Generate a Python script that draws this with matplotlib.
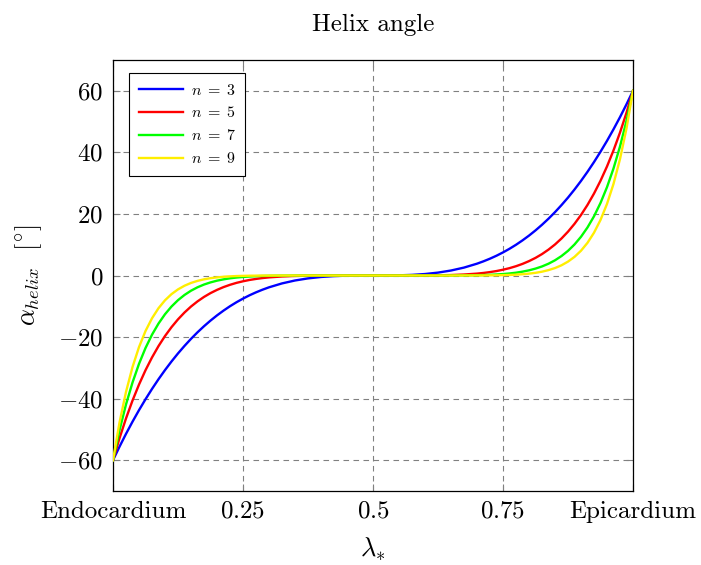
import matplotlib
matplotlib.use("Agg")
import matplotlib.pyplot as plt

plt.rcParams['font.family'] = 'serif'
plt.rcParams['font.serif'] = ['cmr10']
plt.rcParams['mathtext.fontset'] = 'cm'
plt.rcParams['axes.formatter.use_mathtext'] = True

# normalized transmural position (0 = endocardium, 1 = epicardium)
lam = [0, 0.0125, 0.025, 0.0375, 0.05, 0.0625, 0.075, 0.0875, 0.1, 0.1125, 0.125,
       0.1375, 0.15, 0.1625, 0.175, 0.1875, 0.2, 0.2125, 0.225, 0.2375, 0.25,
       0.2625, 0.275, 0.2875, 0.3,
       0.325, 0.35, 0.375, 0.4, 0.425, 0.45, 0.475,
       0.5, 0.525, 0.55, 0.575, 0.6, 0.625, 0.65, 0.675,
       0.7, 0.7125, 0.725, 0.7375, 0.75, 0.7625, 0.775, 0.7875, 0.8, 0.8125,
       0.825, 0.8375, 0.85, 0.8625, 0.875, 0.8875, 0.9, 0.9125, 0.925, 0.9375,
       0.95, 0.9625, 0.975, 0.9875, 1.0]

# helix angle [deg] for each exponent n
n3 = [-60, -55.61, -51.44, -47.49, -43.74, -40.2, -36.85, -33.69, -30.72, -27.93, -25.31,
      -22.87, -20.58, -18.45, -16.48, -14.65, -12.96, -11.41, -9.98, -8.68, -7.5,
      -6.43, -5.47, -4.61, -3.84,
      -2.57, -1.62, -0.94, -0.48, -0.2, -0.06, -0.01,
      0, 0.01, 0.06, 0.2, 0.48, 0.94, 1.62, 2.57,
      3.84, 4.61, 5.47, 6.43, 7.5, 8.68, 9.98, 11.41, 12.96, 14.65,
      16.48, 18.45, 20.58, 22.87, 25.31, 27.93, 30.72, 33.69, 36.85, 40.2,
      43.74, 47.49, 51.44, 55.61, 60]
n5 = [-60, -52.87, -46.43, -40.63, -35.43, -30.77, -26.62, -22.93, -19.66, -16.78, -14.24,
      -12.02, -10.08, -8.41, -6.96, -5.72, -4.67, -3.77, -3.02, -2.39, -1.88,
      -1.45, -1.11, -0.83, -0.61,
      -0.32, -0.15, -0.06, -0.02, 0, 0, 0,
      0, 0, 0, 0, 0.02, 0.06, 0.15, 0.32,
      0.61, 0.83, 1.11, 1.45, 1.88, 2.39, 3.02, 3.77, 4.67, 5.72,
      6.96, 8.41, 10.08, 12.02, 14.24, 16.78, 19.66, 22.93, 26.62, 30.77,
      35.43, 40.63, 46.43, 52.87, 60]
n7 = [-60, -50.26, -41.9, -34.77, -28.7, -23.56, -19.23, -15.61, -12.58, -10.08, -8.01,
      -6.32, -4.94, -3.83, -2.94, -2.24, -1.68, -1.25, -0.91, -0.66, -0.47,
      -0.33, -0.22, -0.15, -0.1,
      -0.04, -0.01, 0, 0, 0, 0, 0,
      0, 0, 0, 0, 0, 0, 0.01, 0.04,
      0.1, 0.15, 0.22, 0.33, 0.47, 0.66, 0.91, 1.25, 1.68, 2.24,
      2.94, 3.83, 4.94, 6.32, 8.01, 10.08, 12.58, 15.61, 19.23, 23.56,
      28.7, 34.77, 41.9, 50.26, 60]
n9 = [-60, -47.77, -37.81, -29.75, -23.25, -18.04, -13.9, -10.62, -8.05, -6.05, -4.51,
      -3.32, -2.42, -1.75, -1.24, -0.87, -0.61, -0.41, -0.28, -0.18, -0.12,
      -0.07, -0.05, -0.03, -0.02,
      -0.01, 0, 0, 0, 0, 0, 0,
      0, 0, 0, 0, 0, 0, 0, 0.01,
      0.02, 0.03, 0.05, 0.07, 0.12, 0.18, 0.28, 0.41, 0.61, 0.87,
      1.24, 1.75, 2.42, 3.32, 4.51, 6.05, 8.05, 10.62, 13.9, 18.04,
      23.25, 29.75, 37.81, 47.77, 60]

series = [(n3, 'blue', r'$n\;=\;3$'), (n5, 'red', r'$n\;=\;5$'),
          (n7, '#00ff00', r'$n\;=\;7$'), (n9, '#ffee00', r'$n\;=\;9$')]

xticks = [0, 0.25, 0.5, 0.75, 1]
xticklabels = ['Endocardium', r'$0.25$', r'$0.5$', r'$0.75$', 'Epicardium']
yticks = [-60, -40, -20, 0, 20, 40, 60]

fig = plt.figure(figsize=(7.01, 5.65), dpi=100)
ax = fig.add_axes([113 / 701, 74 / 565, 520 / 701, 431 / 565])

for y, c, lab in series:
    ax.plot(lam, y, color=c, lw=1.7, label=lab, zorder=3)

ax.set_xlim(0, 1)
ax.set_ylim(-70, 70)
ax.set_xticks(xticks)
ax.set_xticklabels(xticklabels, fontsize=18)
ax.set_yticks(yticks)
ax.set_yticklabels([r'$%d$' % v if v >= 0 else r'$-%d$' % -v for v in yticks], fontsize=18)
ax.tick_params(direction='in', length=5, color='gray', top=True, right=True, pad=7)
ax.grid(True, color='gray', linestyle=(0, (5, 4)), linewidth=0.8)
for s in ax.spines.values():
    s.set_linewidth(0.9)

ax.set_title('Helix angle', fontsize=18, pad=21)
ax.set_xlabel(r'$\lambda_{*}$', fontsize=19, labelpad=9)
ax.set_ylabel(r'$\alpha_{helix}\ \ [^{\circ}]$', fontsize=19, labelpad=10)

leg = ax.legend(loc='upper left', bbox_to_anchor=(0.031, 0.97), fontsize=11.5,
                fancybox=False, framealpha=1, edgecolor='black', borderaxespad=0,
                handlelength=2.8, handletextpad=0.45, borderpad=0.6, labelspacing=0.5)
leg.get_frame().set_linewidth(0.8)

fig.savefig('out.png', dpi=100)
